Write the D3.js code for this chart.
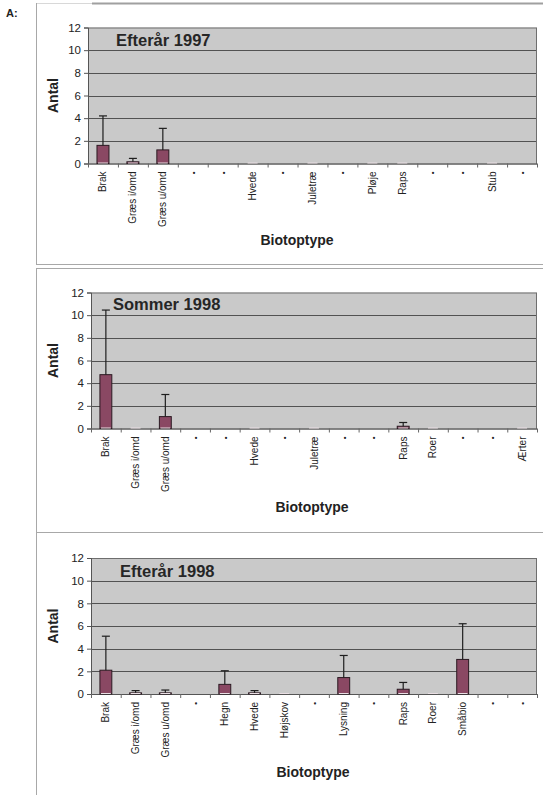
<!DOCTYPE html>
<html>
<head>
<meta charset="utf-8">
<script src="https://cdn.jsdelivr.net/npm/d3@7"></script>
<style>
  html, body { margin: 0; padding: 0; background: #fff; }
  svg { display: block; font-family: "Liberation Sans", Arial, sans-serif; }
</style>
</head>
<body>
<svg id="chart" width="543" height="795"></svg>
<script>
// Mean number per biotope type with upper standard-deviation bars.
// null = category without data (no bar drawn).

// Efterår 1997
const cats1997a = ["Brak", "Græs i/omd", "Græs u/omd", "•", "•", "Hvede", "•", "Juletræ", "•", "Pløje", "Raps", "•", "•", "Stub", "•"];
const mean1997a = [1.6, 0.15, 1.2, null, null, 0, null, 0, null, 0, 0, null, null, 0, null];
const sd1997a   = [2.6, 0.3, 1.9, null, null, 0, null, 0, null, 0, 0, null, null, 0, null];

// Sommer 1998
const cats1998s = ["Brak", "Græs i/omd", "Græs u/omd", "•", "•", "Hvede", "•", "Juletræ", "•", "•", "Raps", "Roer", "•", "•", "Ærter"];
const mean1998s = [4.75, 0, 1.05, null, null, 0, null, 0, null, null, 0.2, 0, null, null, 0];
const sd1998s   = [5.7, 0, 1.95, null, null, 0, null, 0, null, null, 0.33, 0, null, null, 0];

// Efterår 1998
const cats1998a = ["Brak", "Græs i/omd", "Græs u/omd", "•", "Hegn", "Hvede", "Højskov", "•", "Lysning", "•", "Raps", "Roer", "Småbio", "•", "•"];
const mean1998a = [2.1, 0.1, 0.1, null, 0.85, 0.1, 0, null, 1.45, null, 0.42, 0, 3.05, null, null];
const sd1998a   = [3.0, 0.2, 0.25, null, 1.2, 0.2, 0, null, 1.95, null, 0.6, 0, 3.15, null, null];

const yTicks = [0, 2, 4, 6, 8, 10, 12];
const yMax = 12;

const panels = [
  { title: "Efterår 1997", cats: cats1997a, mean: mean1997a, sd: sd1997a,
    frame: { top: 3, bottom: 264 }, plot: { x0: 88, x1: 537, y0: 27.5, y1: 163.5 },
    titlePos: [116, 46], xTitlePos: [297, 245] },
  { title: "Sommer 1998", cats: cats1998s, mean: mean1998s, sd: sd1998s,
    frame: { top: 268, bottom: 532 }, plot: { x0: 91, x1: 537, y0: 292.5, y1: 428.5 },
    titlePos: [113, 310], xTitlePos: [312, 512] },
  { title: "Efterår 1998", cats: cats1998a, mean: mean1998a, sd: sd1998a,
    frame: { top: 532, bottom: 800 }, plot: { x0: 91, x1: 537, y0: 558, y1: 694 },
    titlePos: [120, 577], xTitlePos: [313, 777] }
];

const svg = d3.select("#chart");

// Panel label
svg.append("text").attr("x", 6).attr("y", 17)
  .attr("font-size", 11).attr("font-weight", "bold").attr("fill", "#222").text("A:");

// Frames around the panels
const frameCol = "#a8a8a8";
svg.append("line").attr("x1", 36).attr("x2", 92).attr("y1", 3.5).attr("y2", 3.5)
  .attr("stroke", "#d8d8d8").attr("stroke-width", 1);
svg.append("line").attr("x1", 92).attr("x2", 543).attr("y1", 3.5).attr("y2", 3.5)
  .attr("stroke", "#a0a0a0").attr("stroke-width", 2);
panels.forEach((p, i) => {
  svg.append("line").attr("x1", 36.5).attr("x2", 36.5)
    .attr("y1", p.frame.top).attr("y2", p.frame.bottom)
    .attr("stroke", frameCol).attr("stroke-width", 1);
  if (i > 0) {
    svg.append("line").attr("x1", 36).attr("x2", 543)
      .attr("y1", p.frame.top + 0.5).attr("y2", p.frame.top + 0.5)
      .attr("stroke", frameCol).attr("stroke-width", 1);
  }
  if (i < panels.length - 1) {
    svg.append("line").attr("x1", 36).attr("x2", 543)
      .attr("y1", p.frame.bottom + 0.5).attr("y2", p.frame.bottom + 0.5)
      .attr("stroke", frameCol).attr("stroke-width", 1);
  }
});

panels.forEach(p => {
  const g = svg.append("g");
  const { x0, x1, y0, y1 } = p.plot;

  const x = d3.scaleBand().domain(d3.range(p.cats.length)).range([x0, x1]).paddingInner(0.6).paddingOuter(0.3);
  const bx = d3.scaleBand().domain(d3.range(p.cats.length)).range([x0, x1]);
  const y = d3.scaleLinear().domain([0, yMax]).range([y1, y0]);

  // Plot background
  g.append("rect").attr("x", x0).attr("y", y0).attr("width", x1 - x0).attr("height", y1 - y0)
    .attr("fill", "#c9c9c9");

  // Gridlines
  g.selectAll(".grid").data(yTicks.filter(t => t > 0 && t < yMax)).join("line")
    .attr("x1", x0).attr("x2", x1)
    .attr("y1", d => Math.round(y(d)) + 0.5).attr("y2", d => Math.round(y(d)) + 0.5)
    .attr("stroke", "#525252").attr("stroke-width", 1);

  // Plot border
  g.append("rect").attr("x", x0 + 0.5).attr("y", y0 + 0.5).attr("width", x1 - x0 - 1).attr("height", y1 - y0)
    .attr("fill", "none").attr("stroke", "#6e6e6e").attr("stroke-width", 1);

  // Y axis
  const ya = g.append("g").attr("transform", `translate(${x0},0)`)
    .call(d3.axisLeft(y).tickValues(yTicks).tickSize(4).tickPadding(3));
  ya.select(".domain").attr("stroke", "#555");
  ya.selectAll(".tick line").attr("stroke", "#555");
  ya.selectAll(".tick text").attr("font-size", 11.5).attr("fill", "#222")
    .attr("font-family", "'Liberation Sans', Arial, sans-serif");

  // X axis line and category separators
  g.append("line").attr("x1", x0).attr("x2", x1).attr("y1", y1 + 0.5).attr("y2", y1 + 0.5)
    .attr("stroke", "#555").attr("stroke-width", 1);
  g.selectAll(".xtick").data(d3.range(p.cats.length + 1)).join("line")
    .attr("x1", i => (i < p.cats.length ? bx(i) : x1) + 0.5)
    .attr("x2", i => (i < p.cats.length ? bx(i) : x1) + 0.5)
    .attr("y1", y1).attr("y2", y1 + 4)
    .attr("stroke", "#666").attr("stroke-width", 1);

  // Category labels
  g.selectAll(".xlab").data(p.cats).join("text")
    .attr("transform", (d, i) => `translate(${bx(i) + bx.bandwidth() / 2},${y1 + 8}) rotate(-90)`)
    .attr("text-anchor", "end").attr("dy", "0.35em")
    .attr("font-size", d => d === "•" ? 8 : 10).attr("fill", "#222")
    .text(d => d);

  const rows = p.cats.map((c, i) => ({ i, m: p.mean[i], s: p.sd[i] })).filter(d => d.m !== null);

  // Bars
  g.selectAll(".bar").data(rows.filter(d => d.m > 0)).join("rect")
    .attr("x", d => x(d.i)).attr("y", d => y(d.m))
    .attr("width", x.bandwidth()).attr("height", d => y1 - y(d.m))
    .attr("fill", "#8a4863").attr("stroke", "#2b1a22").attr("stroke-width", 1);

  // Light base line of each bar (also visible where the value is 0)
  g.selectAll(".base").data(rows).join("line")
    .attr("x1", d => x(d.i) + 1).attr("x2", d => x(d.i) + x.bandwidth() - 1)
    .attr("y1", y1 - 0.5).attr("y2", y1 - 0.5)
    .attr("stroke", "#eadfe4").attr("stroke-width", 1);

  // Upper error bars
  const eb = rows.filter(d => d.s > 0);
  g.selectAll(".err").data(eb).join("line")
    .attr("x1", d => x(d.i) + x.bandwidth() / 2).attr("x2", d => x(d.i) + x.bandwidth() / 2)
    .attr("y1", d => y(d.m)).attr("y2", d => y(d.m + d.s))
    .attr("stroke", "#1e1e1e").attr("stroke-width", 1.2);
  g.selectAll(".cap").data(eb).join("line")
    .attr("x1", d => x(d.i) + x.bandwidth() / 2 - 4).attr("x2", d => x(d.i) + x.bandwidth() / 2 + 4)
    .attr("y1", d => y(d.m + d.s)).attr("y2", d => y(d.m + d.s))
    .attr("stroke", "#1e1e1e").attr("stroke-width", 1.2);

  // Titles
  g.append("text").attr("x", p.titlePos[0]).attr("y", p.titlePos[1])
    .attr("font-size", 16.5).attr("font-weight", "bold").attr("fill", "#262626").text(p.title);
  g.append("text").attr("transform", `translate(58,${(y0 + y1) / 2}) rotate(-90)`)
    .attr("text-anchor", "middle").attr("font-size", 14).attr("font-weight", "bold")
    .attr("fill", "#222").text("Antal");
  g.append("text").attr("x", p.xTitlePos[0]).attr("y", p.xTitlePos[1])
    .attr("text-anchor", "middle").attr("font-size", 14).attr("font-weight", "bold")
    .attr("fill", "#222").text("Biotoptype");
});
</script>
</body>
</html>
